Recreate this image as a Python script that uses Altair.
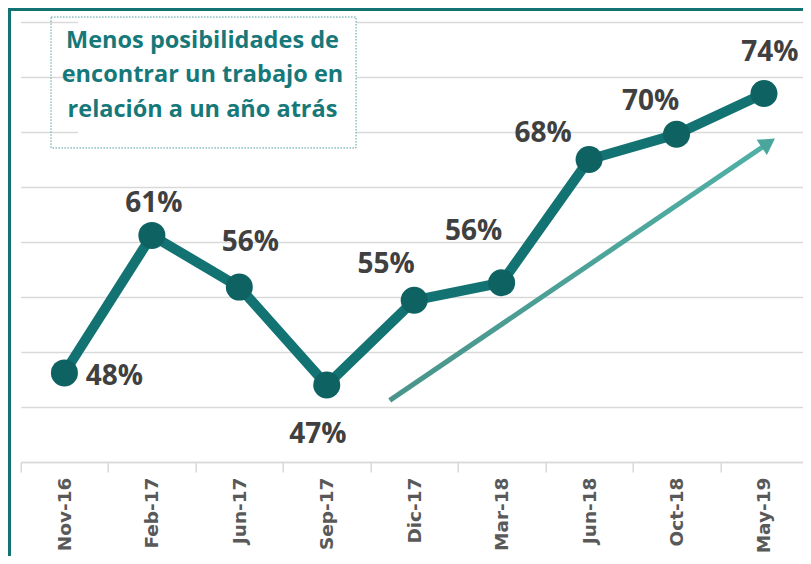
import altair as alt
import pandas as pd

# ---- data ----
months = ["Nov-16", "Feb-17", "Jun-17", "Sep-17", "Dic-17", "Mar-18", "Jun-18", "Oct-18", "May-19"]
values = [48.1, 60.6, 55.9, 47.0, 54.7, 56.3, 67.5, 69.8, 73.5]
labels = ["48%", "61%", "56%", "47%", "55%", "56%", "68%", "70%", "74%"]
box_text = "Menos posibilidades de\nencontrar un trabajo en\nrelación a un año atrás"

# ---- layout constants (pixel offsets of value labels) ----
label_dx = [50, 2, 11, -9, -28, -28, -46, -26, 6]
label_dy = [4, -31, -44, 50, -35, -51, -26, -32, -41]

W, H = 787, 440
TEAL = "#137373"
DARK = "#0e6262"

df = pd.DataFrame({"month": months, "value": values, "label": labels})

yaxis = alt.Axis(values=list(range(40, 81, 5)), grid=True, gridColor="#d9d9d9", gridWidth=1.5,
                 labels=False, ticks=False, domain=False, title=None)
Y = alt.Y("value:Q", scale=alt.Scale(domain=[40, 80], nice=False, zero=False), axis=yaxis)
X = alt.X("month:N", sort=months,
          scale=alt.Scale(type="band", paddingInner=0, paddingOuter=0),
          axis=alt.Axis(title=None, labelAngle=-90, tickBand="extent", tickSize=10,
                        tickColor="#d9d9d9", tickWidth=1.5, domainColor="#d9d9d9",
                        domainWidth=1.5, labelFont="DejaVu Sans", labelFontWeight="bold",
                        labelFontSize=18.5, labelColor="#595959", labelPadding=5, grid=False))

base = alt.Chart(df)
line = base.mark_line(color=TEAL, strokeWidth=10).encode(x=X, y=Y)
pts = base.mark_circle(size=729, color=DARK, opacity=1).encode(x=X, y=Y)

label_layers = []
for i, m in enumerate(months):
    label_layers.append(
        base.transform_filter(alt.datum.month == m)
        .mark_text(dx=label_dx[i], dy=label_dy[i], font="Open Sans", fontWeight="bold",
                   fontSize=28, color="#404040", align="center", baseline="middle")
        .encode(x=X, y=Y, text="label:N")
    )

main = alt.layer(line, pts, *label_layers)

# ---- annotations in data units (x index scale) ----
AX = lambda f: alt.X(f, type="quantitative", scale=alt.Scale(domain=[-0.5, 8.5], nice=False, zero=False), axis=None)
AY = lambda f: alt.Y(f, type="quantitative", scale=alt.Scale(domain=[40, 80], nice=False, zero=False), axis=yaxis)

arrow_df = pd.DataFrame({"ax": [3.72, 8.05], "ay": [45.6, 69.0]})
arrow_line = alt.Chart(arrow_df).mark_line(
    strokeWidth=5,
    stroke=alt.Gradient(gradient="linear",
                        stops=[alt.GradientStop(color="#4a948b", offset=0),
                               alt.GradientStop(color="#4fb0a6", offset=1)],
                        x1=0, x2=1, y1=0, y2=0),
).encode(x=AX("ax"), y=AY("ay"))
head_df = pd.DataFrame({"ax": [8.05], "ay": [69.0]})
arrow_head = alt.Chart(head_df).mark_point(shape="triangle-right", filled=True, size=340,
                                           angle=326, color="#4aa69c", opacity=1).encode(
    x=AX("ax"), y=AY("ay"))

box_df = pd.DataFrame({"ax": [-0.153], "ax2": [3.335], "fx": [0.155], "ay": [80.45], "ay2": [68.55],
                       "tx": [1.579], "ty": [77.64], "t": [box_text]})
box_fill = alt.Chart(box_df).mark_rect(fill="white", strokeWidth=0).encode(
    x=AX("fx"), x2="ax2", y=AY("ay"), y2="ay2")
box_border = alt.Chart(box_df).mark_rect(fillOpacity=0, stroke="#4e9e9e", strokeWidth=1,
                                         strokeDash=[1.5, 1.5]).encode(
    x=AX("ax"), x2="ax2", y=AY("ay"), y2="ay2")
box_txt = alt.Chart(box_df).mark_text(font="Open Sans", fontWeight="bold", fontSize=23.5,
                                      color="#167878", align="center", baseline="alphabetic",
                                      lineBreak="\n", lineHeight=34.5).encode(
    x=AX("tx"), y=AY("ty"), text="t:N")

annot = alt.layer(box_fill, box_border, box_txt, arrow_line, arrow_head)

# ---- frame ----
one = pd.DataFrame({"a": [0]})
frame_left = alt.Chart(one).mark_rule(color=TEAL, strokeWidth=3).encode(
    x=alt.value(-11.2), y=alt.value(-14), y2=alt.value(560))
frame_top = alt.Chart(one).mark_rule(color=TEAL, strokeWidth=3).encode(
    x=alt.value(-12.7), x2=alt.value(800), y=alt.value(-12.5))

chart = alt.layer(annot, main, frame_left, frame_top).resolve_scale(x="independent").properties(
    width=W, height=H, background="white",
    autosize=alt.AutoSizeParams(type="none"),
    padding={"left": 12.7, "top": 14, "right": -4.7, "bottom": 94},
).configure_view(stroke=None)

chart.save("out.html", embed_options={"renderer": "svg", "actions": False})
